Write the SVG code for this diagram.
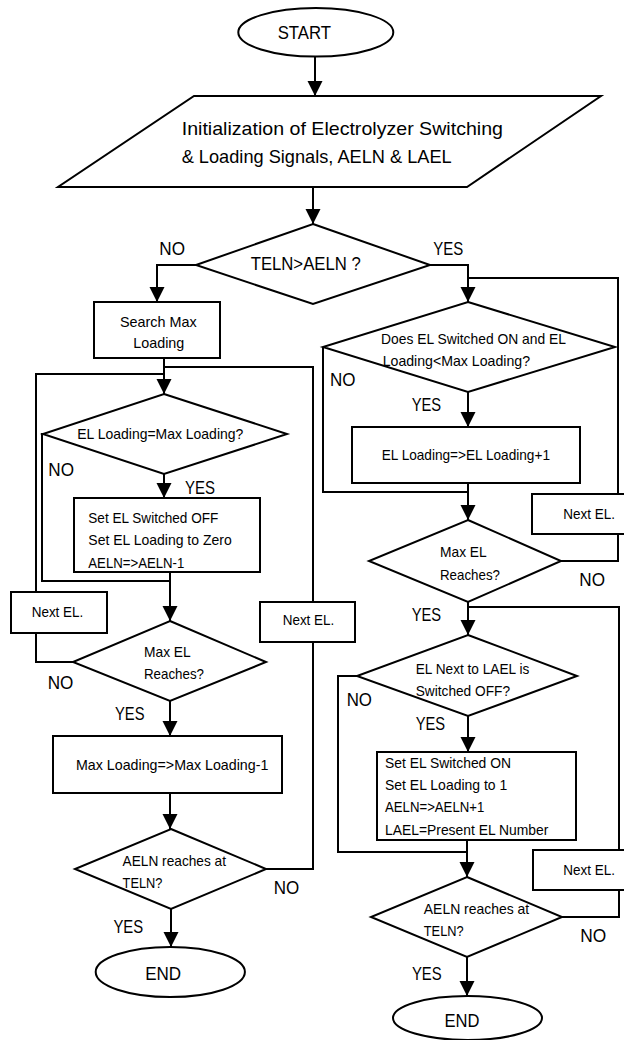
<svg xmlns="http://www.w3.org/2000/svg" width="624" height="1040" viewBox="0 0 624 1040">
<style>
.s{fill:#fff;stroke:#000;stroke-width:2}
.c{fill:none;stroke:#000;stroke-width:2}
.a{fill:none;stroke:#000;stroke-width:2;marker-end:url(#ah)}
text{font-family:"Liberation Sans",Arial,sans-serif;fill:#000}
.lg{font-size:19px}
.sm{font-size:14.5px}
</style>
<defs>
<marker id="ah" markerUnits="userSpaceOnUse" markerWidth="16" markerHeight="16" refX="15" refY="7.5" orient="auto">
<path d="M0,0 L15,7.5 L0,15 z" fill="#000"/>
</marker>
</defs>
<rect width="624" height="1040" fill="#fff"/>
<g id="connectors">
<path class="a" d="M315,57 V96"/>
<path class="a" d="M313,187 V224"/>
<path class="a" d="M196,265 H157 V302"/>
<path class="a" d="M430,265 H468 V302"/>
<path class="a" d="M164,358 V394"/>
<path class="c" d="M266,869 H313 V642"/>
<path class="c" d="M313,602 V367 H164"/>
<path class="c" d="M73,662 H36 V633"/>
<path class="c" d="M36,592 V374 H164"/>
<path class="c" d="M43,434 H42 V581 H170"/>
<path class="a" d="M164,474 V498"/>
<path class="a" d="M170,572 V621"/>
<path class="a" d="M170,701 V736"/>
<path class="a" d="M170,793 V829"/>
<path class="a" d="M171,909 V947"/>
<path class="c" d="M618,494 V278 H468"/>
<path class="c" d="M323,347 V492 H468"/>
<path class="a" d="M468,392 V427"/>
<path class="a" d="M468,483 V520"/>
<path class="c" d="M561,561 H618 V534"/>
<path class="a" d="M468,602 V635"/>
<path class="c" d="M619,850 V607 H468"/>
<path class="c" d="M357,676 H338 V852 H467"/>
<path class="a" d="M468,716 V752"/>
<path class="a" d="M467,840 V877"/>
<path class="c" d="M562,917 H619 V890"/>
<path class="a" d="M467,957 V996"/>
</g>
<g id="labels">
<text class="lg" x="159.3" y="255" textLength="25.7" lengthAdjust="spacingAndGlyphs">NO</text>
<text class="lg" x="433.3" y="255" textLength="30" lengthAdjust="spacingAndGlyphs">YES</text>
<text class="lg" x="48.3" y="475.7" textLength="25.7" lengthAdjust="spacingAndGlyphs">NO</text>
<text class="lg" x="185" y="494" textLength="30" lengthAdjust="spacingAndGlyphs">YES</text>
<text class="lg" x="47.7" y="689" textLength="25.7" lengthAdjust="spacingAndGlyphs">NO</text>
<text class="lg" x="115" y="720" textLength="29.5" lengthAdjust="spacingAndGlyphs">YES</text>
<text class="lg" x="273.8" y="894.3" textLength="25.5" lengthAdjust="spacingAndGlyphs">NO</text>
<text class="lg" x="113.4" y="932.7" textLength="29.8" lengthAdjust="spacingAndGlyphs">YES</text>
<text class="lg" x="330" y="386" textLength="25.5" lengthAdjust="spacingAndGlyphs">NO</text>
<text class="lg" x="411.7" y="411" textLength="29.5" lengthAdjust="spacingAndGlyphs">YES</text>
<text class="lg" x="579.3" y="586" textLength="25.7" lengthAdjust="spacingAndGlyphs">NO</text>
<text class="lg" x="411.7" y="620.7" textLength="29.5" lengthAdjust="spacingAndGlyphs">YES</text>
<text class="lg" x="346.7" y="706" textLength="25.3" lengthAdjust="spacingAndGlyphs">NO</text>
<text class="lg" x="415.7" y="730" textLength="29.5" lengthAdjust="spacingAndGlyphs">YES</text>
<text class="lg" x="580.2" y="941.7" textLength="26" lengthAdjust="spacingAndGlyphs">NO</text>
<text class="lg" x="411.9" y="980" textLength="29.8" lengthAdjust="spacingAndGlyphs">YES</text>
</g>
<g id="start">
<ellipse class="s" cx="315.8" cy="32.3" rx="77.5" ry="24.3"/>
<text class="lg" x="277.7" y="39.3" textLength="53.3" lengthAdjust="spacingAndGlyphs">START</text>
</g>
<g id="init">
<polygon class="s" points="194,96 601,96 467,187 58,187"/>
<text class="lg" x="181.7" y="135" textLength="321.3" lengthAdjust="spacingAndGlyphs">Initialization of Electrolyzer Switching</text>
<text class="lg" x="181.7" y="163.3" textLength="270" lengthAdjust="spacingAndGlyphs">&amp; Loading Signals, AELN &amp; LAEL</text>
</g>
<g id="teln-aeln">
<polygon class="s" points="313,224 430,265 313,304 196,265"/>
<text class="lg" x="250.7" y="270" textLength="110" lengthAdjust="spacingAndGlyphs">TELN&gt;AELN ?</text>
</g>
<g id="search-max">
<rect class="s" x="94" y="302" width="126" height="56"/>
<text class="sm" x="120" y="326.7" textLength="76.7" lengthAdjust="spacingAndGlyphs">Search Max</text>
<text class="sm" x="133.3" y="348.3" textLength="51" lengthAdjust="spacingAndGlyphs">Loading</text>
</g>
<g id="el-loading-max">
<polygon class="s" points="164,394 287,434 164,474 43,434"/>
<text class="sm" x="77.3" y="439.3" textLength="166" lengthAdjust="spacingAndGlyphs">EL Loading=Max Loading?</text>
</g>
<g id="set-off">
<rect class="s" x="74" y="498" width="186" height="74"/>
<text class="sm" x="88.3" y="522.7" textLength="130" lengthAdjust="spacingAndGlyphs">Set EL Switched OFF</text>
<text class="sm" x="88.3" y="545" textLength="143.4" lengthAdjust="spacingAndGlyphs">Set EL Loading to Zero</text>
<text class="sm" x="88.3" y="568.3" textLength="96" lengthAdjust="spacingAndGlyphs">AELN=&gt;AELN-1</text>
</g>
<g id="next-el-left">
<rect class="s" x="11" y="592" width="96" height="41"/>
<text class="sm" x="31.7" y="616.7" textLength="51.6" lengthAdjust="spacingAndGlyphs">Next EL.</text>
</g>
<g id="max-el-left">
<polygon class="s" points="170,621 266,662 170,701 73,662"/>
<text class="sm" x="144" y="657.3" textLength="46.7" lengthAdjust="spacingAndGlyphs">Max EL</text>
<text class="sm" x="144" y="679.3" textLength="60" lengthAdjust="spacingAndGlyphs">Reaches?</text>
</g>
<g id="next-el-mid">
<rect class="s" x="260" y="602" width="95" height="40"/>
<text class="sm" x="282.7" y="625.3" textLength="51.6" lengthAdjust="spacingAndGlyphs">Next EL.</text>
</g>
<g id="max-loading-dec">
<rect class="s" x="53" y="736" width="229" height="57"/>
<text class="sm" x="76" y="770" textLength="192.3" lengthAdjust="spacingAndGlyphs">Max Loading=&gt;Max Loading-1</text>
</g>
<g id="aeln-teln-left">
<polygon class="s" points="171,829 266,869 171,909 75,869"/>
<text class="sm" x="122.6" y="865.7" textLength="103.4" lengthAdjust="spacingAndGlyphs">AELN reaches at</text>
<text class="sm" x="122.6" y="888.3" textLength="39.8" lengthAdjust="spacingAndGlyphs">TELN?</text>
</g>
<g id="end-left">
<ellipse class="s" cx="170.3" cy="972" rx="74.6" ry="25"/>
<text class="lg" x="145.2" y="980" textLength="36" lengthAdjust="spacingAndGlyphs">END</text>
</g>
<g id="el-on-check">
<polygon class="s" points="468,302 615,347 468,392 323,347"/>
<text class="sm" x="381" y="344" textLength="185" lengthAdjust="spacingAndGlyphs">Does EL Switched ON and EL</text>
<text class="sm" x="382.7" y="366" textLength="147.3" lengthAdjust="spacingAndGlyphs">Loading&lt;Max Loading?</text>
</g>
<g id="el-loading-inc">
<rect class="s" x="352" y="427" width="228" height="56"/>
<text class="sm" x="381.7" y="460" textLength="168.3" lengthAdjust="spacingAndGlyphs">EL Loading=&gt;EL Loading+1</text>
</g>
<g id="next-el-right-top">
<rect class="s" x="532" y="494" width="113" height="40"/>
<text class="sm" x="563.3" y="519.3" textLength="51.7" lengthAdjust="spacingAndGlyphs">Next EL.</text>
</g>
<g id="max-el-right">
<polygon class="s" points="468,520 561,561 468,602 369,561"/>
<text class="sm" x="440" y="557.3" textLength="46.7" lengthAdjust="spacingAndGlyphs">Max EL</text>
<text class="sm" x="440" y="580" textLength="60" lengthAdjust="spacingAndGlyphs">Reaches?</text>
</g>
<g id="el-next-check">
<polygon class="s" points="468,635 577,676 468,716 357,676"/>
<text class="sm" x="415.7" y="674.3" textLength="113.6" lengthAdjust="spacingAndGlyphs">EL Next to LAEL is</text>
<text class="sm" x="415.7" y="696" textLength="94.3" lengthAdjust="spacingAndGlyphs">Switched OFF?</text>
</g>
<g id="set-on">
<rect class="s" x="377" y="752" width="199" height="88"/>
<text class="sm" x="385" y="767.7" textLength="126" lengthAdjust="spacingAndGlyphs">Set EL Switched ON</text>
<text class="sm" x="385" y="790" textLength="122.3" lengthAdjust="spacingAndGlyphs">Set EL Loading to 1</text>
<text class="sm" x="385" y="812.3" textLength="99.3" lengthAdjust="spacingAndGlyphs">AELN=&gt;AELN+1</text>
<text class="sm" x="385" y="835" textLength="163.3" lengthAdjust="spacingAndGlyphs">LAEL=Present EL Number</text>
</g>
<g id="next-el-right-bottom">
<rect class="s" x="533" y="850" width="112" height="40"/>
<text class="sm" x="563.3" y="875" textLength="51.7" lengthAdjust="spacingAndGlyphs">Next EL.</text>
</g>
<g id="aeln-teln-right">
<polygon class="s" points="467,877 562,917 467,957 371,917"/>
<text class="sm" x="423.8" y="914.3" textLength="105.4" lengthAdjust="spacingAndGlyphs">AELN reaches at</text>
<text class="sm" x="423.8" y="936" textLength="39.8" lengthAdjust="spacingAndGlyphs">TELN?</text>
</g>
<g id="end-right">
<ellipse class="s" cx="467.5" cy="1018" rx="74.5" ry="22"/>
<text class="lg" x="444.5" y="1026.7" textLength="35" lengthAdjust="spacingAndGlyphs">END</text>
</g>
</svg>
